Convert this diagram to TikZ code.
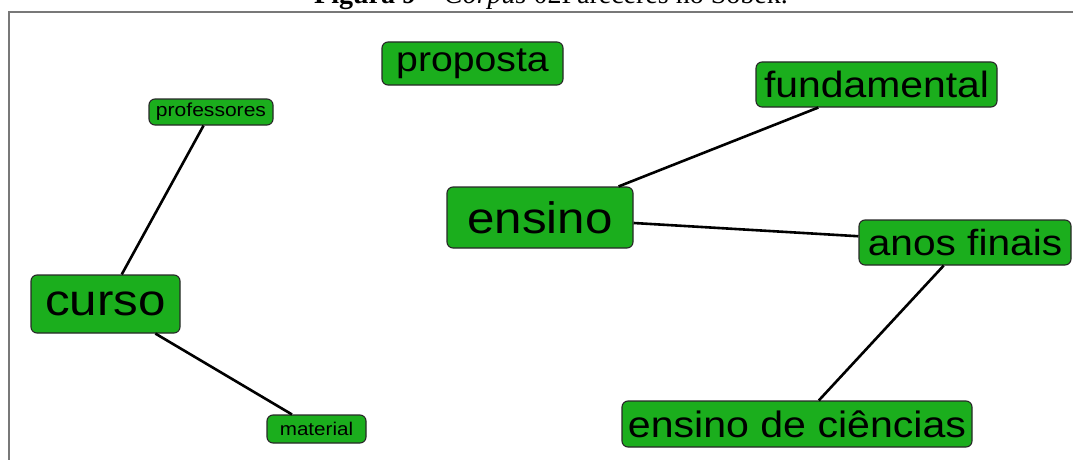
\documentclass[tikz,border=0pt]{standalone}
\usepackage{fontspec}
\setmainfont{Liberation Serif}
\newfontfamily\arialish[FakeStretch=1.12]{Liberation Sans}
\definecolor{nodegreen}{RGB}{27,174,29}
\definecolor{nodeedge}{RGB}{40,40,40}
\definecolor{framegray}{RGB}{120,120,120}
\tikzset{
  term/.style={draw=nodeedge, fill=nodegreen, line width=1.1pt, rounded corners=6pt,
    inner sep=0pt, text=black, align=center},
  link/.style={line width=2.6pt, black},
  fs/.style={font=\arialish\fontsize{#1}{#1}\selectfont}
}
\begin{document}
\begin{tikzpicture}[x=1pt,y=-1pt]
\useasboundingbox (0,0) rectangle (1073,460);
\fill[white] (0,0) rectangle (1073,460);
\draw[framegray, line width=2pt] (9,480) -- (9,12) -- (1090,12);
\node[anchor=base, inner sep=0pt, font=\fontsize{28}{30}\selectfont] (cap) at (551,4)
  {\textbf{Figura 9} -- \textit{Corpus} 02Pareceres no Sobek.};

\node[term, fs=35, minimum width=181pt, minimum height=43pt] (proposta) at (472.5,63.5) {proposta};
\node[term, fs=18.8, minimum width=124pt, minimum height=26pt] (professores) at (211,112) {professores};
\node[term, fs=44, minimum width=149pt, minimum height=58pt] (curso) at (105.5,304) {curso};
\node[term, fs=18.4, minimum width=99pt, minimum height=28pt] (material) at (316.5,429) {material};
\node[term, fs=44, minimum width=186pt, minimum height=61pt] (ensino) at (540,217.5) {ensino};
\node[term, fs=36.5, minimum width=241pt, minimum height=45pt] (fundamental) at (876.5,84.5) {fundamental};
\node[term, fs=36.3, minimum width=212pt, minimum height=45pt] (anos) at (965,242.5) {anos finais};
\node[term, fs=36.7, minimum width=350pt, minimum height=46pt] (edc) at (797,424) {ensino de ciências};

\draw[link] (professores) -- (curso);
\draw[link] (curso) -- (material);
\draw[link] (ensino) -- (fundamental);
\draw[link] (ensino) -- (anos);
\draw[link] (anos) -- (edc);
\end{tikzpicture}
\end{document}
